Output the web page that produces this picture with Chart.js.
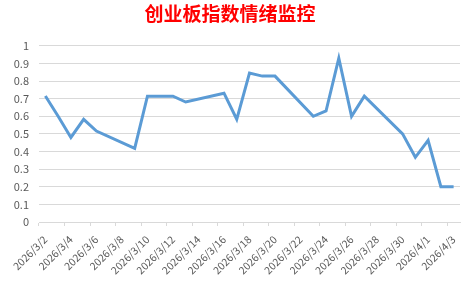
<!DOCTYPE html>
<html>
<head>
<meta charset="utf-8">
<script src="https://cdn.jsdelivr.net/npm/chart.js@4"></script>
<style>
html,body{margin:0;padding:0;background:#fff;}
#wrap{width:476px;height:281px;position:relative;}
</style>
</head>
<body>
<div id="wrap"><canvas id="c"></canvas></div>
<script>
const chartTitle = '创业板指数情绪监控';
const dates = ['2026/3/2','2026/3/3','2026/3/4','2026/3/5','2026/3/6','2026/3/7','2026/3/8','2026/3/9','2026/3/10','2026/3/11','2026/3/12','2026/3/13','2026/3/14','2026/3/15','2026/3/16','2026/3/17','2026/3/18','2026/3/19','2026/3/20','2026/3/21','2026/3/22','2026/3/23','2026/3/24','2026/3/25','2026/3/26','2026/3/27','2026/3/28','2026/3/29','2026/3/30','2026/3/31','2026/4/1','2026/4/2','2026/4/3'];
const sentiment = [0.715,0.60,0.48,0.583,0.516,null,null,0.418,0.714,0.714,0.714,0.681,null,null,0.731,0.583,0.845,0.828,0.828,null,null,0.60,0.63,0.93,0.60,0.714,null,null,0.50,0.367,0.463,0.20,0.20];
const yTicks = [0,0.1,0.2,0.3,0.4,0.5,0.6,0.7,0.8,0.9,1];

const fontFam = '"Noto Sans CJK SC", "DejaVu Sans", sans-serif';
new Chart(document.getElementById('c'), {
  type: 'line',
  data: {
    labels: dates,
    datasets: [{
      data: sentiment,
      borderColor: '#5b9bd5',
      borderWidth: 3,
      pointRadius: 0,
      tension: 0,
      spanGaps: true,
      fill: false
    }]
  },
  options: {
    responsive: true,
    maintainAspectRatio: false,
    animation: false,
    devicePixelRatio: 1,
    layout: { padding: { left: 0, right: 16, top: 0, bottom: 2 } },
    plugins: {
      legend: { display: false },
      tooltip: { enabled: false },
      title: {
        display: true,
        text: chartTitle,
        color: '#ff0000',
        font: { family: fontFam, size: 19, weight: 'bold', lineHeight: 1.2 },
        padding: { top: 2, bottom: 21 }
      }
    },
    scales: {
      x: {
        type: 'category',
        offset: true,
        afterFit: (scale) => { scale.height = 57; },
        grid: {
          offset: true,
          drawOnChartArea: false,
          drawTicks: true,
          tickLength: 4,
          color: (ctx) => (ctx.index % 2 === 0 ? '#d9d9d9' : 'rgba(0,0,0,0)')
        },
        border: { display: true, color: '#d9d9d9', width: 1 },
        ticks: {
          autoSkip: false,
          minRotation: 45,
          maxRotation: 45,
          padding: 7,
          color: '#595959',
          font: { family: fontFam, size: 10.5 },
          callback: function(v, i) { return i % 2 === 0 ? dates[i] : ''; }
        }
      },
      y: {
        min: 0,
        max: 1,
        afterBuildTicks: (scale) => { scale.ticks = yTicks.map(v => ({ value: v })); },
        afterFit: (scale) => { scale.width = 39; },
        grid: { color: '#d9d9d9', drawTicks: false, lineWidth: 1 },
        border: { display: false },
        ticks: {
          padding: 10,
          color: '#595959',
          font: { family: fontFam, size: 11 },
          callback: (v) => (v === 0 || v === 1 ? String(v) : v.toFixed(1))
        }
      }
    }
  }
});
</script>
</body>
</html>
